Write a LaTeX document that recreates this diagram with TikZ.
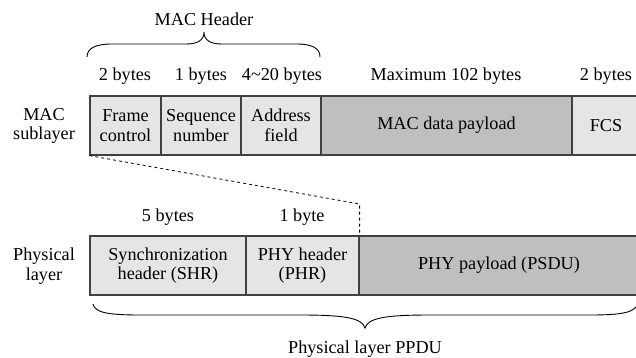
\documentclass[tikz,border=0pt]{standalone}
\usepackage{fontspec}
\setmainfont{Liberation Serif}
\begin{document}
\begin{tikzpicture}[x=1pt,y=-1pt,
  every node/.style={font=\fontsize{18.2}{19.5}\selectfont, inner sep=0pt, align=center},
  field/.style={draw=black!75, line width=1.2pt, minimum height=59pt, anchor=center},
  light/.style={field, fill=black!10},
  dark/.style={field, fill=black!25},
  lbl/.style={},
  brc/.style={draw=black, line width=0.9pt}]
\useasboundingbox (0,0) rectangle (636,358);
% MAC row
\node[light, minimum width=71pt] (fc) at (125.5,125.5) {Frame\\control};
\node[light, minimum width=80pt] (sn) at (201,125.5) {Sequence\\number};
\node[light, minimum width=80pt] (af) at (281,125.5) {Address\\field};
\node[dark, minimum width=251pt] (mp) at (446.5,125.5) {MAC data payload};
\node[light, minimum width=68pt] (fcs) at (606,125.5) {FCS};
% PHY row
\node[light, minimum width=156pt] (shr) at (168,265.5) {Synchronization\\header (SHR)};
\node[light, minimum width=113pt] (phr) at (302.5,265.5) {PHY header\\(PHR)};
\node[dark, minimum width=280pt] (psdu) at (499,265.5) {PHY payload (PSDU)};
% side labels
\node[lbl] (macl) at (44,126) {MAC\\sublayer};
\node[lbl] (phyl) at (44,266) {Physical\\layer};
% byte labels
\node[lbl] (b1) at (125,76) {2 bytes};
\node[lbl] (b2) at (201,76) {1 bytes};
\node[lbl] (b3) at (282,76) {4\textasciitilde20 bytes};
\node[lbl] (b4) at (446,76) {Maximum 102 bytes};
\node[lbl] (b5) at (606,76) {2 bytes};
\node[lbl] (b6) at (168,217) {5 bytes};
\node[lbl] (b7) at (302,217) {1 byte};
% titles
\node[lbl] (mh) at (204,19) {MAC Header};
\node[lbl] (ppdu) at (365,349) {Physical layer PPDU};
% dashed link
\coordinate (bend) at (phr.north east |- 0,204);
\draw[dashed, line width=0.8pt] (fc.south west) -- (bend) -- (phr.north east);
% top brace
\draw[brc] (87,57) .. controls (87,48) and (96,44) .. (112,44) -- (186,44)
  .. controls (198,44) and (204,40) .. (204,32)
  .. controls (204,40) and (210,44) .. (222,44) -- (296,44)
  .. controls (312,44) and (320,48) .. (320,57);
% bottom brace
\draw[brc] (93,304) .. controls (95,312) and (105,315) .. (140,315) -- (300,315)
  .. controls (345,315) and (362,318) .. (365,328)
  .. controls (368,318) and (385,315) .. (430,315) -- (590,315)
  .. controls (625,315) and (634,312) .. (638,304);
\end{tikzpicture}
\end{document}
